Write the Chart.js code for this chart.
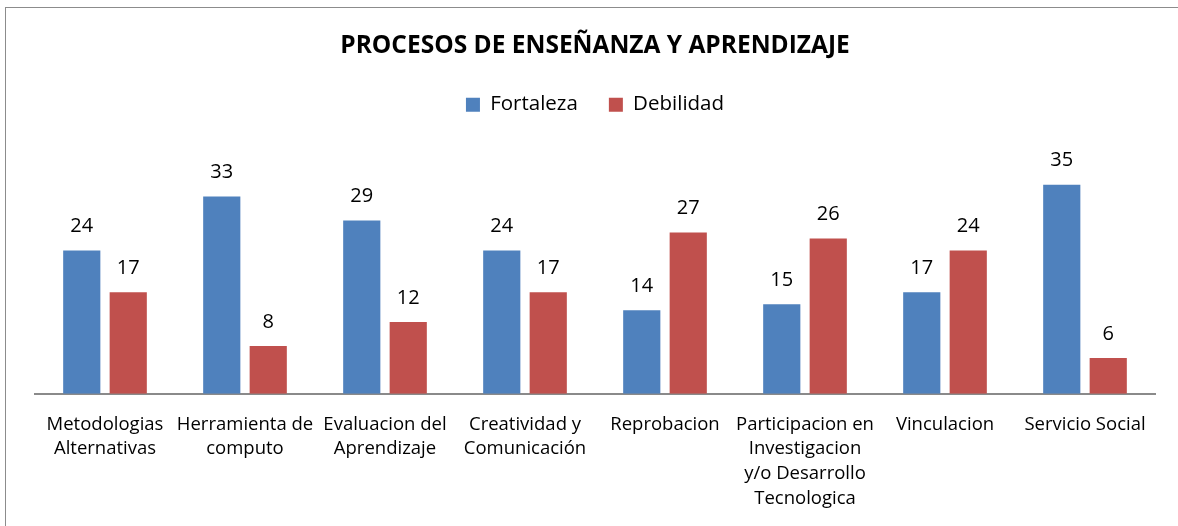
<!DOCTYPE html>
<html>
<head>
<meta charset="utf-8">
<script src="https://cdn.jsdelivr.net/npm/chart.js@4.4.1/dist/chart.umd.min.js"></script>
<style>
  body { margin: 0; background: #fff; overflow: hidden; }
  #marco { position: absolute; left: 5px; top: 7px; width: 1300px; height: 700px; border: 1px solid #8c8c8c; }
  #grafico { position: absolute; left: 0; top: 0; }
</style>
</head>
<body>
<div id="marco"></div>
<canvas id="grafico" width="1178" height="526"></canvas>
<script>
// categorias (etiquetas en varias lineas)
const categorias = [
    ["Metodologias", "Alternativas"],
    ["Herramienta de", "computo"],
    ["Evaluacion del", "Aprendizaje"],
    ["Creatividad y", "Comunicación"],
    ["Reprobacion"],
    ["Participacion en", "Investigacion", "y/o Desarrollo", "Tecnologica"],
    ["Vinculacion"],
    ["Servicio Social"]
];
const fortaleza = [24, 33, 29, 24, 14, 15, 17, 35];
const debilidad = [17, 8, 12, 17, 27, 26, 24, 6];

const fuente = "'Open Sans', sans-serif";

// Plugin para dibujar los valores encima de cada barra
const etiquetasValores = {
    id: 'etiquetasValores',
    afterDatasetsDraw(chart) {
        const ctx = chart.ctx;
        ctx.save();
        ctx.font = "20px " + fuente;
        ctx.fillStyle = '#000';
        ctx.textAlign = 'center';
        ctx.textBaseline = 'middle';
        chart.data.datasets.forEach((ds, i) => {
            chart.getDatasetMeta(i).data.forEach((barra, j) => {
                ctx.fillText(ds.data[j], barra.x, barra.y - 24);
            });
        });
        ctx.restore();
    }
};

const ctx = document.getElementById('grafico').getContext('2d');
new Chart(ctx, {
    type: 'bar',
    data: {
        labels: categorias,
        datasets: [{
            label: 'Fortaleza',
            data: fortaleza,
            backgroundColor: '#4F81BD'
        }, {
            label: 'Debilidad',
            data: debilidad,
            backgroundColor: '#C0504D'
        }]
    },
    options: {
        responsive: false,
        animation: false,
        categoryPercentage: 0.664,
        barPercentage: 0.8,
        layout: { padding: { left: 35, right: 23, top: 0, bottom: 5 } },
        plugins: {
            title: {
                display: true,
                text: 'PROCESOS DE ENSEÑANZA Y APRENDIZAJE',
                color: '#000',
                font: { family: fuente, size: 24.5, weight: 'bold' },
                padding: { top: 31, bottom: 3 }
            },
            legend: {
                labels: {
                    color: '#000',
                    font: { family: fuente, size: 20.5 },
                    boxWidth: 14,
                    boxHeight: 14,
                    padding: 31
                }
            },
            tooltip: { enabled: false }
        },
        scales: {
            x: {
                grid: { display: false },
                border: { display: true, color: '#8a8a8a', width: 2 },
                ticks: {
                    color: '#000',
                    font: { family: fuente, size: 18.5, lineHeight: 1.34 },
                    maxRotation: 0,
                    autoSkip: false,
                    padding: 10
                }
            },
            y: {
                display: false,
                min: 0,
                max: 45
            }
        }
    },
    plugins: [etiquetasValores]
});
</script>
</body>
</html>
